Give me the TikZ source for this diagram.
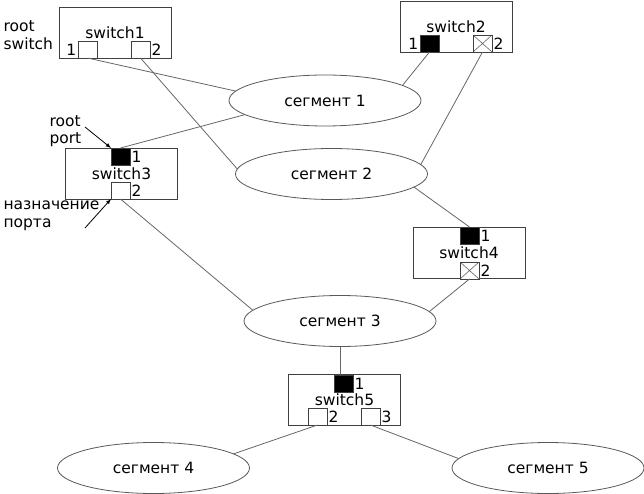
\documentclass[tikz,border=0pt]{standalone}
\usepackage{fontspec}
\setmainfont{DejaVu Sans}
\usetikzlibrary{shapes.geometric}
\usetikzlibrary{arrows}
\tikzset{%
    switch/.style={inner sep=0pt,outer sep=0pt,shape=rectangle,draw=black!75,line width=0.8pt,minimum width=112pt,minimum height=51pt},
    port/.style={inner sep=0pt,outer sep=0pt,shape=rectangle,draw=black!75,line width=0.8pt,fill=white,minimum width=19pt,minimum height=17pt},
    root port/.style={port,fill=black},
    blocked port/.style={port,path picture={\draw[black!60,line width=0.6pt] (path picture bounding box.south west) -- (path picture bounding box.north east) (path picture bounding box.north west) -- (path picture bounding box.south east);}},
    segment/.style={inner sep=0pt,outer sep=0pt,shape=ellipse,draw=black!65,line width=0.8pt,minimum width=192pt,minimum height=51pt},
    link/.style={black!60,line width=0.8pt},
    pointer/.style={->,>=latex,line width=0.8pt},
    every label/.style={inner sep=0pt},
}

\begin{document}
\begin{tikzpicture}[x=1pt,y=-1pt,font=\fontsize{15.5}{17.5}\selectfont,label distance=1.5pt]
        \useasboundingbox (0,0) rectangle (644,494);
        \node [switch] (s1) at (115,32.5) {switch1};
        \node [port,anchor=south west,label={left:1}] (p11) at (78,58) {};
        \node [port,anchor=south west,label={right:2}] (p12) at (131,58) {};
        \node [switch] (s2) at (456,26.5) {switch2};
        \node [root port,anchor=south west,label={left:1}] (p21) at (420,52) {};
        \node [blocked port,anchor=south west,label={right:2}] (p22) at (473,52) {};
        \node [switch] (s3) at (121.5,173.5) {switch3};
        \node [root port,anchor=north west,label={right:1}] (p31) at (111,148) {};
        \node [port,anchor=south west,label={right:2}] (p32) at (111,199) {};
        \node [switch] (s4) at (469,253) {switch4};
        \node [root port,anchor=north west,label={right:1}] (p41) at (460,227) {};
        \node [blocked port,anchor=south west,label={right:2}] (p42) at (460,279) {};
        \node [switch] (s5) at (344.5,400) {switch5};
        \node [root port,anchor=north west,label={right:1}] (p51) at (334,375) {};
        \node [port,anchor=south west,label={right:2}] (p52) at (308,425) {};
        \node [port,anchor=south west,label={right:3}] (p53) at (361,425) {};

        \node [segment] (seg1) at (325,100.5) {сегмент 1};
        \node [segment] (seg2) at (331.5,174) {сегмент 2};
        \node [segment] (seg3) at (340,321) {сегмент 3};
        \node [segment] (seg4) at (153.5,468) {сегмент 4};
        \node [segment] (seg5) at (548,468) {сегмент 5};

        \draw [link] (p11.south) -- (seg1.174);
        \draw [link] (p12.south) -- (seg2.177);
        \draw [link] (seg1.190) -- (p31.north);
        \draw [link] (seg1.11) -- (p21.south);
        \draw [link] (p22.south) -- (seg2.6);
        \draw [link] (seg2.351) -- (p41.north);
        \draw [link] (p32.south) -- (seg3.173);
        \draw [link] (p42.south) -- (seg3.6);
        \draw [link] (seg3.south) -- (seg3.south |- p51.north);
        \draw [link] (p52.south) -- (seg4.10);
        \draw [link] (p53.south) -- (seg5.174);

        \node [align=left,anchor=west] (rootsw) at (0,35) {root\\switch};
        \node [align=left,anchor=west] (rootport) at (46,131) {root\\port};
        \node [align=left,anchor=west] (desig) at (0,216) {назначение\\порта};
        \coordinate (rp) at (85,127);
        \coordinate (dp) at (85,228);
        \draw [pointer] (rp) -- (p31.north west);
        \draw [pointer] (dp) -- (p32.south west);
\end{tikzpicture}
\end{document}
